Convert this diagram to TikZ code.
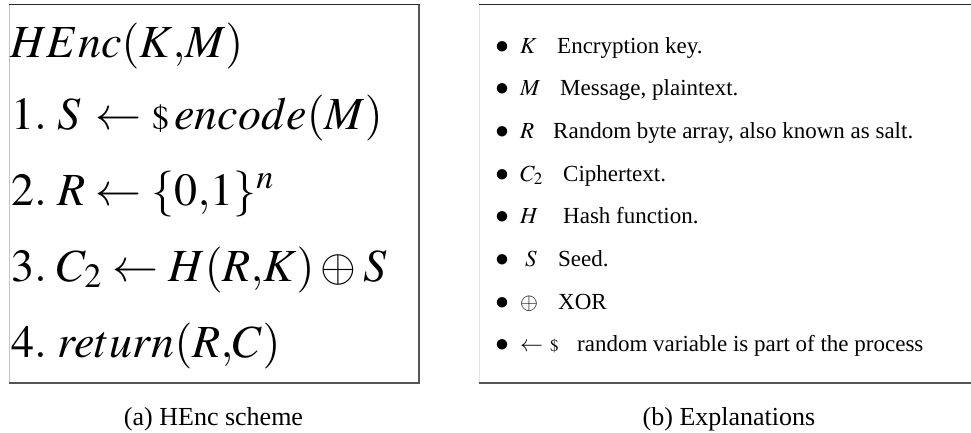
\documentclass[tikz,border=0pt]{standalone}
\usepackage{mathptmx}
\usepackage[no-math]{fontspec}
\setmainfont{Liberation Serif}
\definecolor{frameDark}{HTML}{2A2A2A}
\definecolor{frameShade}{HTML}{555555}
\definecolor{frameLight}{HTML}{C4C4C4}
\definecolor{frameFaint}{HTML}{E2E2E2}
\tikzset{
  algline/.style={anchor=base west, inner sep=0pt, font=\fontsize{46}{56}\selectfont},
  itemdot/.style={anchor=base, inner sep=0pt, font=\fontsize{27}{30}\selectfont},
  itemsym/.style={anchor=base west, inner sep=0pt, font=\fontsize{23}{27}\selectfont},
  itemtext/.style={anchor=base west, inner sep=0pt, font=\fontsize{23}{27}\selectfont},
  caption/.style={anchor=base, inner sep=0pt, font=\fontsize{26}{30}\selectfont},
}
\begin{document}
\begin{tikzpicture}[x=1pt,y=-1pt]
\useasboundingbox (0,0) rectangle (971,432);

% ---- (a) framed algorithm ----
\draw[frameLight, line width=1pt] (9.5,4) -- (9.5,383);
\draw[frameShade, line width=1.2pt] (419,4) -- (419,383);
\draw[frameDark, line width=1pt] (9,4) -- (419.6,4);
\draw[frameShade, line width=1.8pt] (9,383) -- (419.6,383);

\node[algline] (head) at (10,57)  {$HEnc(K{,}M)$};
\node[algline] (s1)   at (11,129) {$1.\;S\,\leftarrow{\scriptstyle\$}\,encode(M)$};
\node[algline] (s2)   at (11,205) {$2.\;R\leftarrow\{0{,}1\}^n$};
\node[algline] (s3)   at (11,281) {$3.\;C_2\leftarrow H(R{,}K)\oplus S$};
\node[algline] (s4)   at (11,357) {$4.\;return(R{,}C)$};

% ---- (b) list of symbols ----
\draw[frameFaint, line width=1pt] (479.5,4) -- (479.5,383);
\draw[frameDark, line width=1pt] (479,4) -- (971,4);
\draw[frameShade, line width=1.8pt] (479,383) -- (971,383);

\node[itemdot] (b1) at (502,53)    {$\bullet$};
\node[itemsym] (k1) at (520,53)    {$K$};
\node[itemtext] (t1) at (557,53)   {Encryption key.};

\node[itemdot] (b2) at (502,95.7)  {$\bullet$};
\node[itemsym] (k2) at (520,95.7)  {$M$};
\node[itemtext] (t2) at (560,95.7) {Message, plaintext.};

\node[itemdot] (b3) at (502,138.4) {$\bullet$};
\node[itemsym] (k3) at (520,138.4) {$R$};
\node[itemtext] (t3) at (553,138.4) {Random byte array, also known as salt.};

\node[itemdot] (b4) at (502,181.1) {$\bullet$};
\node[itemsym] (k4) at (520,181.1) {$C_2$};
\node[itemtext] (t4) at (563,181.1) {Ciphertext.};

\node[itemdot] (b5) at (502,223.8) {$\bullet$};
\node[itemsym] (k5) at (520,223.8) {$H$};
\node[itemtext] (t5) at (563,223.8) {Hash function.};

\node[itemdot] (b6) at (502,266.5) {$\bullet$};
\node[itemsym] (k6) at (525,266.5) {$S$};
\node[itemtext] (t6) at (558,266.5) {Seed.};

\node[itemdot] (b7) at (502,309.2) {$\bullet$};
\node[itemsym] (k7) at (520,309.2) {$\oplus$};
\node[itemtext] (t7) at (558,309.2) {XOR};

\node[itemdot] (b8) at (502,351.9) {$\bullet$};
\node[itemsym] (k8) at (520,351.9) {$\leftarrow{\scriptstyle\,\$}$};
\node[itemtext] (t8) at (577,351.9) {random variable is part of the process};

% ---- captions ----
\node[caption] (capa) at (213.5,425) {(a) HEnc scheme};
\node[caption] (capb) at (729,425)   {(b) Explanations};
\end{tikzpicture}
\end{document}
